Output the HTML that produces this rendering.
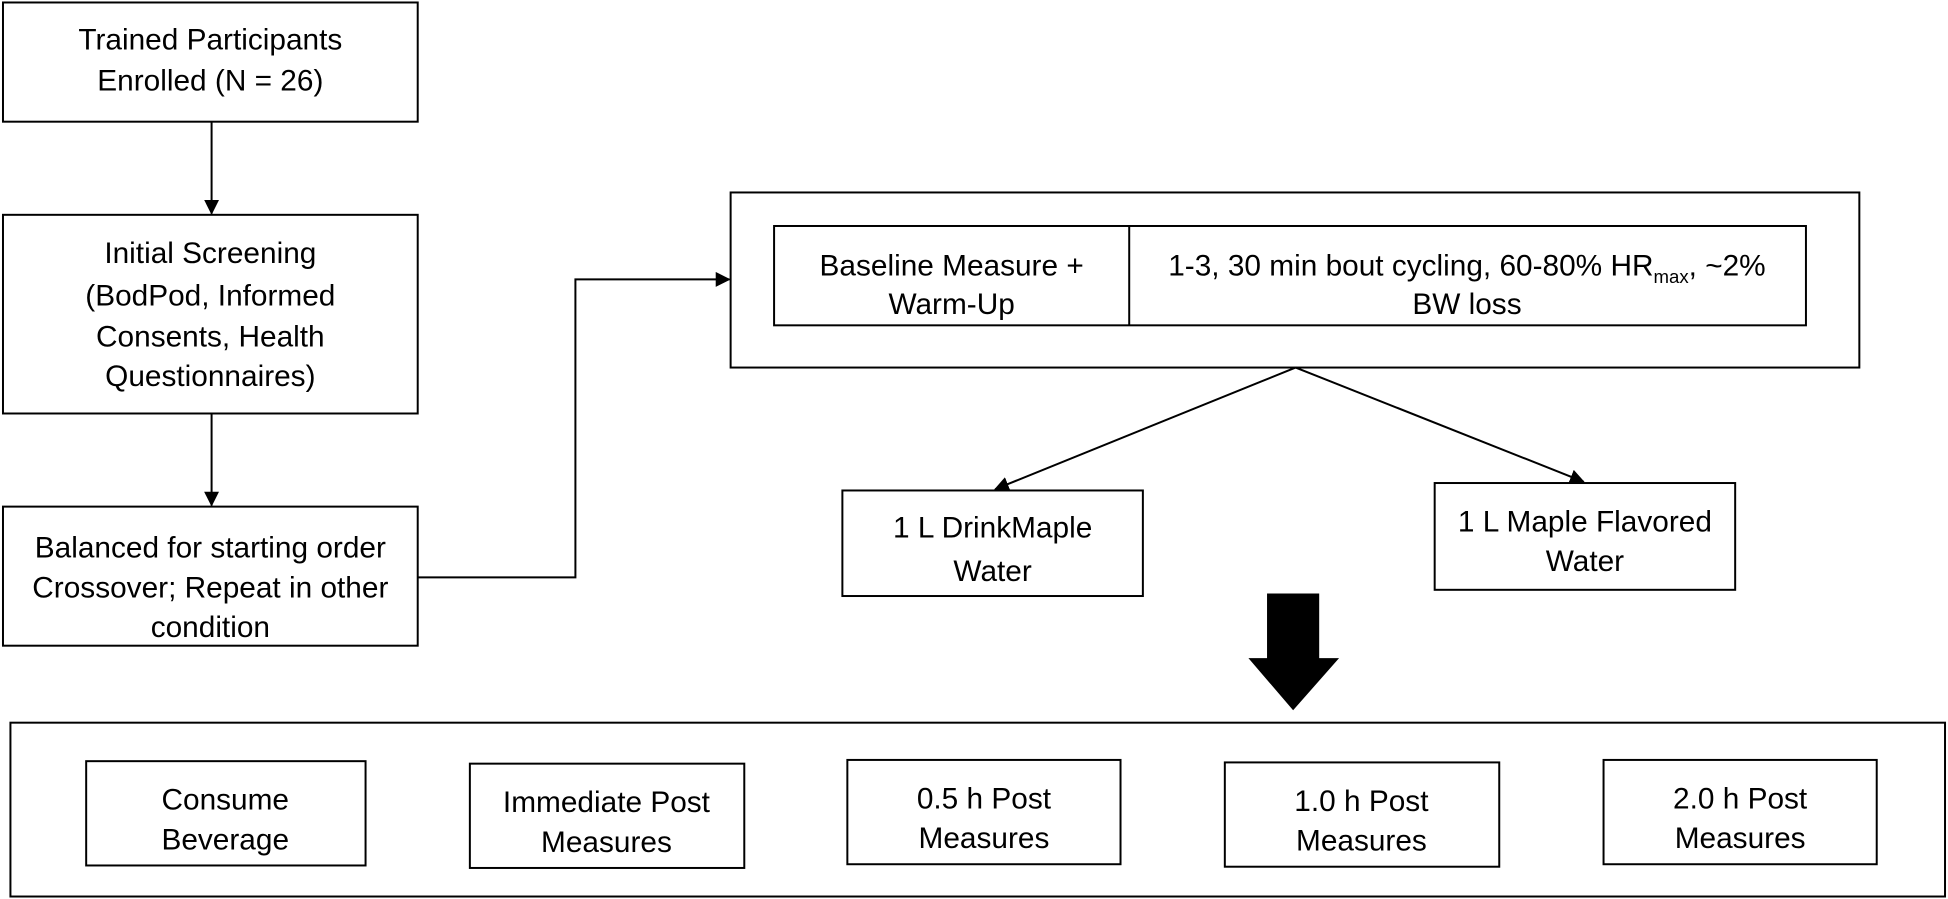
<!DOCTYPE html>
<html><head><meta charset="utf-8"><style>
html,body{margin:0;padding:0;background:#fff;}
svg{display:block;}
text{font-family:"Liberation Sans","DejaVu Sans",sans-serif;font-size:24px;fill:#000;text-anchor:middle;}
</style></head><body>
<svg width="1948" height="899" viewBox="0 0 1568 724" xmlns="http://www.w3.org/2000/svg">
<defs><marker id="a" markerWidth="12" markerHeight="12" refX="11" refY="6" orient="auto" markerUnits="userSpaceOnUse"><path d="M0,0 L12,6 L0,12 z" fill="#000"/></marker></defs>
<g fill="none" stroke="#000" stroke-width="1.6">
<rect x="2" y="2" width="334" height="96"/>
<rect x="2" y="173" width="334" height="160"/>
<rect x="2" y="408" width="334" height="112"/>
<rect x="588" y="155" width="909" height="141"/>
<rect x="623" y="182" width="831" height="80"/>
<line x1="909" y1="182" x2="909" y2="262"/>
<rect x="678" y="395" width="242" height="85"/>
<rect x="1155" y="389" width="242" height="86"/>
<rect x="8" y="582" width="1558" height="140"/>
<rect x="69" y="613" width="225" height="84"/>
<rect x="378" y="615" width="221" height="84"/>
<rect x="682" y="612" width="220" height="84"/>
<rect x="986" y="614" width="221" height="84"/>
<rect x="1291" y="612" width="220" height="84"/>
<line x1="170" y1="98" x2="170" y2="172" marker-end="url(#a)"/>
<line x1="170" y1="333" x2="170" y2="407" marker-end="url(#a)"/>
<polyline points="336,465 463,465 463,225 587,225" marker-end="url(#a)"/>
<line x1="1043" y1="296" x2="801" y2="394" marker-end="url(#a)"/>
<line x1="1043" y1="296" x2="1275" y2="388" marker-end="url(#a)"/>
</g>
<path d="M1020,478 L1062,478 L1062,530 L1078,530 L1041,572 L1005,530 L1020,530 z" fill="#000"/>
<text x="169" y="40">Trained Participants</text>
<text x="169" y="73">Enrolled (N = 26)</text>
<text x="169" y="212">Initial Screening</text>
<text x="169" y="246">(BodPod, Informed</text>
<text x="169" y="279">Consents, Health</text>
<text x="169" y="311">Questionnaires)</text>
<text x="169" y="449">Balanced for starting order</text>
<text x="169" y="481">Crossover; Repeat in other</text>
<text x="169" y="513">condition</text>
<text x="766" y="222">Baseline Measure +</text>
<text x="766" y="253">Warm-Up</text>
<text x="1181" y="222">1-3, 30 min bout cycling, 60-80% HR<tspan font-size="15" dy="6">max</tspan><tspan dy="-6">, ~2%</tspan></text>
<text x="1181" y="253">BW loss</text>
<text x="799" y="433">1 L DrinkMaple</text>
<text x="799" y="468">Water</text>
<text x="1276" y="428">1 L Maple Flavored</text>
<text x="1276" y="460">Water</text>
<text x="181" y="652">Consume</text>
<text x="181" y="684">Beverage</text>
<text x="488" y="654">Immediate Post</text>
<text x="488" y="686">Measures</text>
<text x="792" y="651">0.5 h Post</text>
<text x="792" y="683">Measures</text>
<text x="1096" y="653">1.0 h Post</text>
<text x="1096" y="685">Measures</text>
<text x="1401" y="651">2.0 h Post</text>
<text x="1401" y="683">Measures</text>
</svg>
</body></html>
